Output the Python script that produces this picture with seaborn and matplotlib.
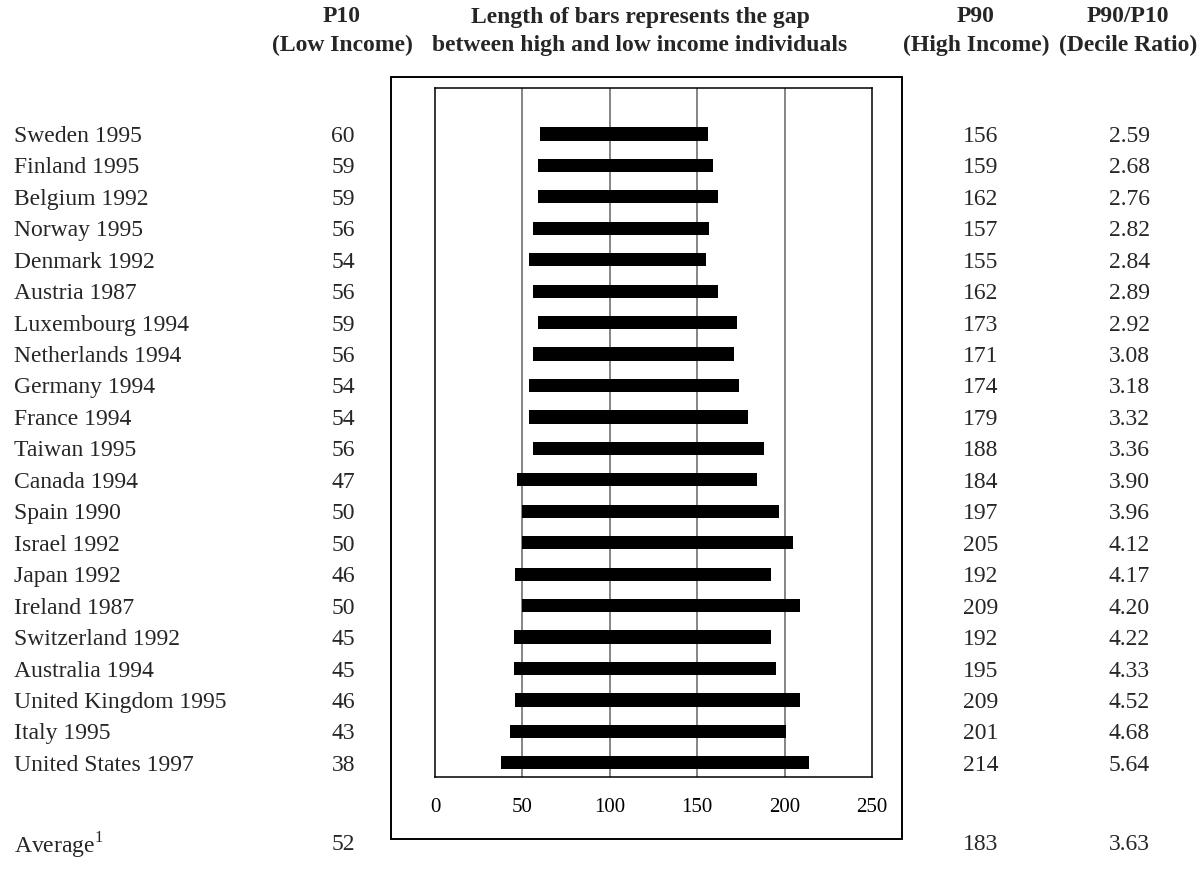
import matplotlib
matplotlib.use("Agg")
import matplotlib.pyplot as plt
import matplotlib.transforms as mtransforms
from matplotlib.patches import Rectangle
import seaborn as sns
import pandas as pd

countries = ["Sweden 1995", "Finland 1995", "Belgium 1992", "Norway 1995", "Denmark 1992",
             "Austria 1987", "Luxembourg 1994", "Netherlands 1994", "Germany 1994", "France 1994",
             "Taiwan 1995", "Canada 1994", "Spain 1990", "Israel 1992", "Japan 1992",
             "Ireland 1987", "Switzerland 1992", "Australia 1994", "United Kingdom 1995",
             "Italy 1995", "United States 1997"]
p10 = [60, 59, 59, 56, 54, 56, 59, 56, 54, 54, 56, 47, 50, 50, 46, 50, 45, 45, 46, 43, 38]
p90 = [156, 159, 162, 157, 155, 162, 173, 171, 174, 179, 188, 184, 197, 205, 192, 209, 192,
       195, 209, 201, 214]
ratio = ["2.59", "2.68", "2.76", "2.82", "2.84", "2.89", "2.92", "3.08", "3.18", "3.32", "3.36",
         "3.90", "3.96", "4.12", "4.17", "4.20", "4.22", "4.33", "4.52", "4.68", "5.64"]
avg_p10, avg_p90, avg_ratio = 52, 183, "3.63"
x_ticks = [0, 50, 100, 150, 200, 250]

df = pd.DataFrame({"country": countries, "p10": p10, "p90": p90})
df["gap"] = df["p90"] - df["p10"]

sns.set_theme(style="white")
plt.rcParams["font.family"] = ["Liberation Serif", "DejaVu Serif"]

W, H = 1201, 880
fig = plt.figure(figsize=(W / 100, H / 100), dpi=100)

def fx(px):
    return px / W

def fy(py):
    return 1 - py / H

# inner plot area
ax = fig.add_axes([fx(435), fy(777), fx(872) - fx(435), fy(88) - fy(777)])
sns.barplot(data=df, x="gap", y="country", left=df["p10"], color="black",
            width=0.42, orient="h", ax=ax, zorder=3, linewidth=0)
ax.set_xlim(0, 250)
ax.set_ylim(20.45, -1.46)
ax.set_xticks(x_ticks)
ax.set_xticklabels([str(t) for t in x_ticks], fontsize=15)
ax.tick_params(axis="x", length=0, pad=15, colors="black")
ax.set_yticks([])
ax.set_xlabel("")
ax.set_ylabel("")
for t in x_ticks[1:-1]:
    ax.axvline(t, color="#707070", linewidth=1.2, zorder=1)
for s in ax.spines.values():
    s.set_visible(True)
    s.set_color("black")
    s.set_linewidth(1.1)

# outer frame
fig.patches.append(Rectangle((fx(391), fy(839)), fx(902) - fx(391), fy(77) - fy(839),
                             transform=fig.transFigure, fill=False, edgecolor="black",
                             linewidth=1.4))

# table columns
fs = 17
trans = mtransforms.blended_transform_factory(fig.transFigure, ax.transData)
for i, c in enumerate(countries):
    ax.text(fx(14), i, c, transform=trans, ha="left", va="center_baseline", fontsize=fs, clip_on=False)
    ax.text(fx(355), i, str(p10[i]), transform=trans, ha="right", va="center_baseline", fontsize=fs, clip_on=False)
    ax.text(fx(981), i, str(p90[i]), transform=trans, ha="center", va="center_baseline", fontsize=fs, clip_on=False)
    ax.text(fx(1150), i, ratio[i], transform=trans, ha="right", va="center_baseline", fontsize=fs, clip_on=False)

# average row
ya = fy(842)
fig.text(fx(14), ya, "Average$^{\\mathregular{1}}$", ha="left", va="center_baseline", fontsize=fs)
fig.text(fx(355), ya, str(avg_p10), ha="right", va="center_baseline", fontsize=fs)
fig.text(fx(981), ya, str(avg_p90), ha="center", va="center_baseline", fontsize=fs)
fig.text(fx(1150), ya, avg_ratio, ha="right", va="center_baseline", fontsize=fs)

# headers
hfs = 17
heads = [(342, "P10", "(Low Income)"),
         (640, "Length of bars represents the gap", "between high and low income individuals"),
         (976, "P90", "(High Income)"),
         (1128, "P90/P10", "(Decile Ratio)")]
for x, l1, l2 in heads:
    fig.text(fx(x), fy(17), l1, ha="center", va="center", fontsize=hfs, fontweight="bold")
    fig.text(fx(x), fy(45), l2, ha="center", va="center", fontsize=hfs, fontweight="bold")

fig.savefig("out.png", dpi=100, facecolor="white")
